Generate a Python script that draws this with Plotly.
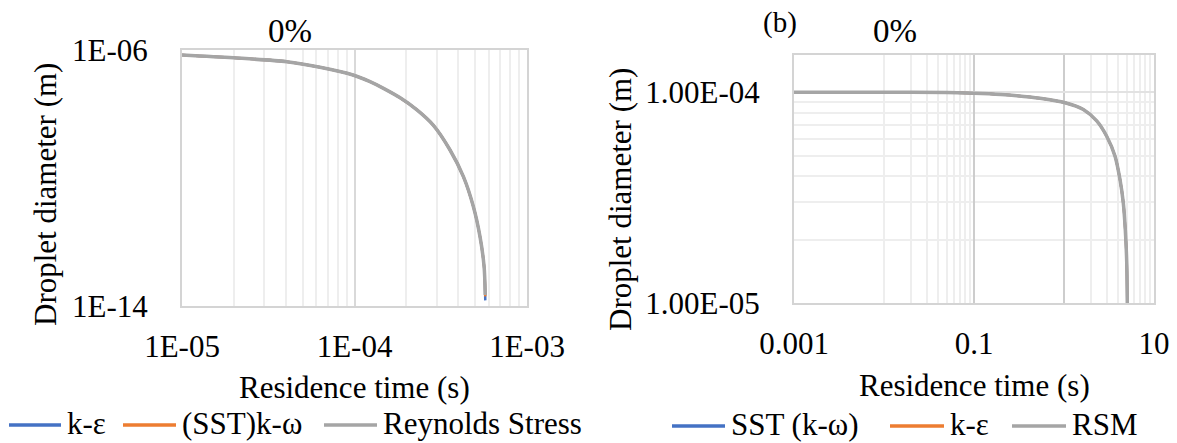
import plotly.graph_objects as go

W, H = 1177, 443

# ---------------- data ----------------
# Left panel: residence time (s) vs droplet diameter (m)
t_left = [1.0e-5, 1.98e-5, 4.05e-5, 6.31e-5, 9.8e-5, 1.23e-4, 1.5e-4, 1.84e-4, 2.30e-4,
          2.86e-4, 3.58e-4, 4.28e-4, 4.89e-4, 5.34e-4, 5.64e-4, 5.73e-4]
d_left_ke = [7.0e-7, 5.7e-7, 4.3e-7, 2.88e-7, 1.65e-7, 1.02e-7, 6.0e-8, 3.2e-8, 1.35e-8,
             4.5e-9, 7.5e-10, 1.1e-10, 1.26e-11, 1.47e-12, 1.7e-13, 1.5e-14]
d_left_sst = [7.0e-7, 5.7e-7, 4.3e-7, 2.88e-7, 1.65e-7, 1.02e-7, 6.0e-8, 3.2e-8, 1.35e-8,
              4.5e-9, 7.5e-10, 1.1e-10, 1.26e-11, 1.47e-12, 1.7e-13, 2.0e-14]
d_left_rs = [7.0e-7, 5.7e-7, 4.3e-7, 2.88e-7, 1.65e-7, 1.02e-7, 6.0e-8, 3.2e-8, 1.35e-8,
             4.5e-9, 7.5e-10, 1.1e-10, 1.26e-11, 1.47e-12, 1.7e-13, 2.2e-14]
left_names = ["k-ε", "(SST)k-ω", "Reynolds Stress"]

# Right panel
t_right = [0.001, 0.01, 0.05, 0.1, 0.2, 0.3, 0.54, 1.03, 1.64, 2.31, 2.98, 3.69,
           4.19, 4.56, 4.80, 4.98, 5.05]
d_right_sst = [1.0e-4, 1.0e-4, 9.95e-5, 9.88e-5, 9.75e-5, 9.62e-5, 9.35e-5, 8.9e-5, 8.27e-5,
               7.3e-5, 6.18e-5, 4.97e-5, 3.85e-5, 2.98e-5, 2.22e-5, 1.55e-5, 9.8e-6]
d_right_ke = list(d_right_sst)
d_right_rsm = list(d_right_sst)
right_names = ["SST (k-ω)", "k-ε", "RSM"]

left_xticks = [1e-5, 1e-4, 1e-3]
left_xticktext = ["1E-05", "1E-04", "1E-03"]
left_yticks = [1e-14, 1e-6]
left_yticktext = ["1E-14", "1E-06"]
right_xticks = [0.001, 0.1, 1, 10]
right_xticktext = ["0.001", "0.1", "", "10"]
right_yticks = [1e-5, 1e-4]
right_yticktext = ["1.00E-05", "1.00E-04"]

BLUE, ORANGE, GRAY = "#4472C4", "#ED7D31", "#A5A5A5"
FONT = "Liberation Serif, Tinos, Times New Roman, DejaVu Serif, serif"


def px(x):
    return x / W


def py(y):
    return 1 - y / H


fig = go.Figure()

for d, name, color, w in [(d_left_ke, left_names[0], BLUE, 2.5),
                          (d_left_sst, left_names[1], ORANGE, 2.5),
                          (d_left_rs, left_names[2], GRAY, 3.5)]:
    fig.add_trace(go.Scatter(x=t_left, y=d, mode="lines", name=name,
                             line=dict(color=color, width=w, shape="spline", smoothing=0.8),
                             showlegend=False, xaxis="x", yaxis="y"))

for d, name, color, w in [(d_right_sst, right_names[0], BLUE, 2.5),
                          (d_right_ke, right_names[1], ORANGE, 2.5),
                          (d_right_rsm, right_names[2], GRAY, 3.5)]:
    fig.add_trace(go.Scatter(x=t_right, y=d, mode="lines", name=name,
                             line=dict(color=color, width=w, shape="spline", smoothing=0.8),
                             showlegend=False, xaxis="x2", yaxis="y2"))

left_minor = [k * 10.0 ** e for e in (-5, -4) for k in range(2, 10)]
right_xminor = [k * 0.01 for k in range(1, 10)] + [float(k) for k in range(2, 10)]
right_yminor = [k * 1e-5 for k in range(2, 10)]

frame = dict(showline=True, linecolor="#D4D4D4", linewidth=2, mirror=True, ticks="",
             zeroline=False, automargin=False,
             tickfont=dict(family=FONT, size=31, color="black"))

fig.update_layout(
    width=W, height=H,
    margin=dict(l=0, r=0, t=0, b=0, autoexpand=False),
    paper_bgcolor="white", plot_bgcolor="white",
    font=dict(family=FONT, size=31, color="black"),
    showlegend=False,
    xaxis=dict(type="log", range=[-5, -3], domain=[px(182), px(527)], anchor="y",
               tickmode="array", tickvals=left_xticks, ticktext=left_xticktext,
               showgrid=True, gridcolor="#D9D9D9", gridwidth=1.5,
               minor=dict(tickvals=left_minor, showgrid=True, gridcolor="#EEEEEE",
                          gridwidth=1.5, ticks=""),
               ticklabelstandoff=12, **frame),
    yaxis=dict(type="log", range=[-14, -6], domain=[py(306), py(50)], anchor="x",
               tickmode="array", tickvals=left_yticks, ticktext=left_yticktext,
               showgrid=False, ticklabelstandoff=26, **frame),
    xaxis2=dict(type="log", range=[-3, 1], domain=[px(794), px(1154)], anchor="y2",
                tickmode="array", tickvals=right_xticks, ticktext=right_xticktext,
                showgrid=True, gridcolor="#CDCDCD", gridwidth=1.5,
                minor=dict(tickvals=right_xminor, showgrid=True, gridcolor="#EEEEEE",
                           gridwidth=1.5, ticks=""),
                ticklabelstandoff=12, **frame),
    yaxis2=dict(type="log", range=[-5, -3.8239], domain=[py(303), py(55)], anchor="x2",
                tickmode="array", tickvals=right_yticks, ticktext=right_yticktext,
                showgrid=True, gridcolor="#E2E2E2", gridwidth=1.5,
                minor=dict(tickvals=right_yminor, showgrid=True, gridcolor="#EEEEEE",
                           gridwidth=1.5, ticks=""),
                ticklabelstandoff=26, **frame),
)

ann = []


def text(x, y, s, size=31, xanchor="center", angle=0):
    ann.append(dict(x=px(x), y=py(y), xref="paper", yref="paper", text=s, showarrow=False,
                    xanchor=xanchor, yanchor="middle", textangle=angle,
                    font=dict(family=FONT, size=size, color="black")))


# titles
text(290, 31, "0%", size=33)
text(895, 31, "0%", size=33)
text(780, 22, "(b)", size=29)
# axis titles
text(45, 195, "Droplet diameter (m)", angle=-90)
text(621, 200, "Droplet diameter (m)", angle=-90)
text(354, 387, "Residence time (s)")
text(974, 385, "Residence time (s)")

# manual legends
shapes = []


def leg(x0, x1, y, color, label):
    shapes.append(dict(type="line", xref="paper", yref="paper", x0=px(x0), x1=px(x1),
                       y0=py(y + 2), y1=py(y + 2), line=dict(color=color, width=3.5)))
    text(x1 + 4, y, label, xanchor="left")


leg(9, 61, 423, BLUE, left_names[0])
leg(123, 176, 423, ORANGE, left_names[1])
leg(324, 377, 423, GRAY, left_names[2])
leg(672, 725, 424, BLUE, right_names[0])
leg(890, 944, 424, ORANGE, right_names[1])
leg(1012, 1066, 424, GRAY, right_names[2])

fig.update_layout(annotations=ann, shapes=shapes)

fig.write_html("out.html", post_script="document.body.style.margin='0';",
               config={"displayModeBar": False})
